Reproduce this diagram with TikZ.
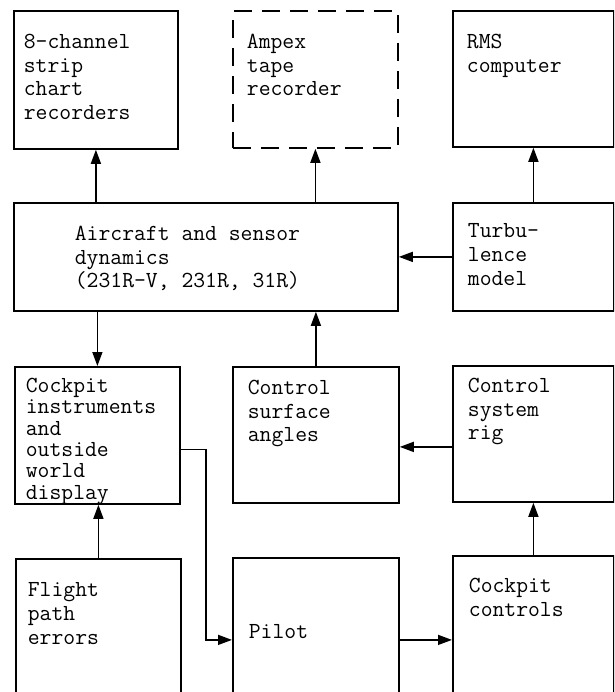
\documentclass[tikz,border=0pt]{standalone}
\usepackage{fontspec}
\usepackage{tikz}
\usetikzlibrary{arrows.meta, positioning}
\newcommand{\blktext}[5]{\parbox[t][#2pt][t]{#1pt}{\raggedright\leftskip=#3pt\relax\vspace*{#4pt}#5}}

\begin{document}
\begin{tikzpicture}[x=1pt, y=-1pt,
    blk/.style={draw, line width=1.8pt, anchor=north west, inner sep=0pt,
                font=\ttfamily\fontsize{23}{23.8}\selectfont},
    dblk/.style={blk, dash pattern=on 18pt off 10pt},
    arr/.style={-{Triangle[length=14pt, width=10pt]}, line width=1.5pt}
  ]
  \useasboundingbox (0,0) rectangle (614,692);
  \clip (0,0) rectangle (614,692);

  % top row
  \node[blk]  (rec)  at (13,10)  {\blktext{164}{138}{10}{23}{8-channel\\strip\\chart\\recorders}};
  \node[dblk] (tape) at (232,10) {\blktext{165}{137}{14}{23}{Ampex\\tape\\recorder}};
  \node[blk]  (rms)  at (452,10) {\blktext{161}{136}{14}{23}{RMS\\computer}};

  % dynamics
  \node[blk] (air)  at (13,202)  {\blktext{384}{108}{61}{23}{Aircraft and sensor\\dynamics\\(231R-V, 231R, 31R)}};
  \node[blk] (turb) at (452,202) {\blktext{161}{108}{15}{21}{Turbu-\\lence\\model}};

  \node[blk, font=\ttfamily\fontsize{23}{21.4}\selectfont] (cpi) at (14,366)
       {\blktext{165}{137}{11}{11}{Cockpit\\instruments\\and\\outside\\world\\display}};
  \node[blk] (srf) at (232,366) {\blktext{166}{136}{15}{13}{Control\\surface\\angles}};
  \node[blk] (rig) at (452,365) {\blktext{161}{136}{15}{12}{Control\\system\\rig}};

  % bottom row
  \node[blk] (fpe)   at (15,558)  {\blktext{165}{160}{12}{24}{Flight\\path\\errors}};
  \node[blk] (pilot) at (232,557) {\blktext{166}{164}{16}{67}{Pilot}};
  \node[blk] (ctl)   at (452,555) {\blktext{161}{168}{16}{22}{Cockpit\\controls}};

  \draw[arr] (air.north -| rec.south) -- (rec.south);
  \draw[arr] (air.north -| tape.south) -- (tape.south);
  \draw[arr] (turb.north) -- (rms.south);
  \draw[arr] (turb.west) -- (turb.west -| air.east);
  \draw[arr] (cpi.north |- air.south) -- (cpi.north);
  \draw[arr] (srf.north) -- (srf.north |- air.south);
  \draw[arr] ([yshift=-13pt]rig.west) -- ([yshift=-13pt]rig.west -| srf.east);
  \draw[arr] (ctl.north -| rig.south) -- (rig.south);
  \draw[arr] (fpe.north) -- (fpe.north |- cpi.south);
  \coordinate (bend) at (206,540);
  \draw[arr] ([yshift=-14pt]cpi.east) -| (bend) |- (pilot.west);
  \draw[arr] (pilot.east) -- (ctl.west);

\end{tikzpicture}
\end{document}
